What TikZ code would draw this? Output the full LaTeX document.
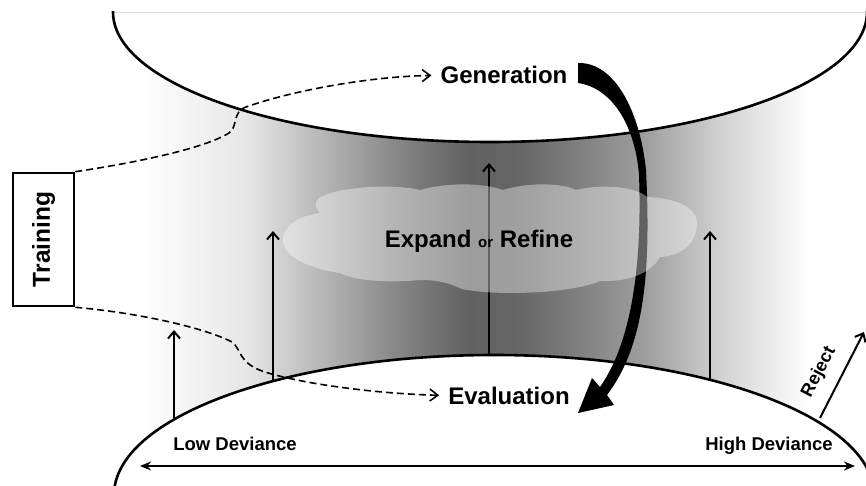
\documentclass[tikz,border=0pt]{standalone}
\usepackage{fontspec}
\setmainfont{Liberation Sans}
\usetikzlibrary{arrows.meta}
\begin{document}
\begin{tikzpicture}[x=1pt,y=-1pt,
  lbl/.style={inner sep=0pt},
  big/.style={font=\bfseries\fontsize{24}{28}\selectfont},
  mid/.style={font=\bfseries\fontsize{18.5}{22}\selectfont},
  dashconn/.style={dash pattern=on 7pt off 4pt, line width=1.6pt, -{Straight Barb[length=8pt,width=12pt]}},
  uparrow/.style={line width=2pt, -{Straight Barb[length=7pt,width=12pt]}},
  rim/.style={line width=2.6pt},
]
\useasboundingbox (0,0) rectangle (866,486);
\begin{scope}
\clip (0,0) rectangle (866,486);
% horizontal gradient between the two surfaces
\foreach \a/\b/\ca/\cb in {140/250/0/10, 250/300/10/23, 300/400/23/48, 400/470/48/62, 470/520/62/60, 520/600/60/46, 600/650/46/37, 650/720/37/18, 720/810/18/0}
  \fill[left color=black!\ca, right color=black!\cb] (\a-0.5,12) rectangle (\b+0.5,486);
% top surface
\begin{scope}
\clip (0,12) rectangle (866,486);
\fill[white] (490,12) ellipse [x radius=377, y radius=130];
\draw[rim] (490,12) ellipse [x radius=377, y radius=130];
\end{scope}
\draw[black!15, line width=0.8pt] (115,12) -- (866,12);
% bottom surface
\fill[white] (494,495) ellipse [x radius=380, y radius=140];
\draw[rim] (494,495) ellipse [x radius=380, y radius=140];
\end{scope}
% vertical arrows
\coordinate (u1b) at (174,418); \coordinate (u1t) at (174,330);
\coordinate (u2b) at (273,381); \coordinate (u2t) at (273,231);
\coordinate (u3b) at (489,356); \coordinate (u3t) at (489,163);
\coordinate (u4b) at (710,380); \coordinate (u4t) at (710,231);
\draw[uparrow] (u1b) -- (u1t);
\draw[uparrow] (u2b) -- (u2t);
\draw[uparrow] (u3b) -- (u3t);
\draw[uparrow] (u4b) -- (u4t);
% fat curved arrow
\fill (578,63) .. controls (615,62) and (640,112) .. (646,170)
  .. controls (651,270) and (645,345) .. (607,395)
  -- (614,405) -- (578,413) -- (592,378) -- (600,387)
  .. controls (633,340) and (642,260) .. (639,175)
  .. controls (635,125) and (612,88) .. (578,83) -- cycle;
% cloud
\fill[white, fill opacity=0.38] (323,196)
  .. controls (345,186) and (395,184) .. (420,190)
  .. controls (445,183) and (480,182) .. (503,190)
  .. controls (525,183) and (560,182) .. (576,190)
  .. controls (600,184) and (635,186) .. (647,197)
  .. controls (680,198) and (699,210) .. (697,226)
  .. controls (695,245) and (680,256) .. (660,257)
  .. controls (650,275) and (625,282) .. (600,281)
  .. controls (570,294) and (495,296) .. (462,289)
  .. controls (445,281) and (432,280) .. (420,280)
  .. controls (390,283) and (355,281) .. (340,273)
  .. controls (305,268) and (283,255) .. (283,240)
  .. controls (283,226) and (298,216) .. (320,213)
  .. controls (313,206) and (315,199) .. (323,196) -- cycle;
% texts
\node[lbl, big, anchor=base] (gen) at (504,84) {Generation};
\node[lbl, big, anchor=base] (eval) at (509,404) {Evaluation};
\node[lbl, big, anchor=base] (er) at (479,247) {Expand {\fontsize{15}{18}\selectfont or} Refine};
\node[lbl, mid, anchor=base] (low) at (235,450) {Low Deviance};
\node[lbl, mid, anchor=base] (high) at (769,450) {High Deviance};
\node[draw, line width=2.6pt, minimum width=61pt, minimum height=133pt, inner sep=0pt, font=\bfseries\fontsize{24.5}{28}\selectfont] (training) at (43.5,239.5) {\rotatebox{90}{Training}};
% dashed connectors
\draw[dashconn, shorten >=9pt] (training.north east) .. controls (140,162) and (205,148) .. (229,133) .. controls (238,127) and (232,112) .. (246,107) .. controls (300,88) and (380,76) .. (gen.west);
\draw[dashconn, shorten >=9pt] (training.south east) .. controls (140,313) and (205,328) .. (232,342) .. controls (242,350) and (238,362) .. (262,371) .. controls (300,384) and (380,394) .. (eval.west);
% deviance axis
\coordinate (dl) at (140,466); \coordinate (dr) at (855,466);
\draw[line width=2pt, {Stealth[length=11pt,width=9pt]}-{Stealth[length=11pt,width=9pt]}] (dl) -- (dr);
% reject
\coordinate (rj1) at (820,418); \coordinate (rj2) at (864,332);
\draw[line width=2pt, -{Straight Barb[length=7pt,width=12pt]}] (rj1) -- (rj2);
\node[lbl, font=\bfseries\fontsize{18}{20}\selectfont, rotate=62.6] (rej) at (819,372) {Reject};
\end{tikzpicture}
\end{document}
